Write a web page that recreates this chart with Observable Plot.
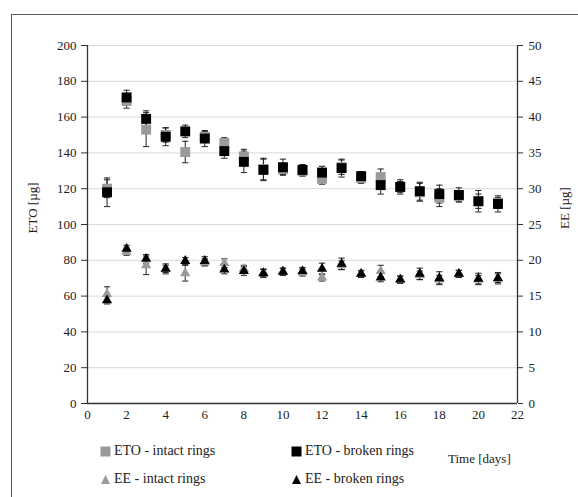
<!DOCTYPE html>
<html><head><meta charset="utf-8">
<script src="https://cdn.jsdelivr.net/npm/d3@7"></script>
<script src="https://cdn.jsdelivr.net/npm/@observablehq/plot@0.6"></script>
<style>
body{margin:0;width:578px;height:497px;overflow:hidden;background:#fff;font-family:'Liberation Serif',serif;color:#222;position:relative}
#frame{position:absolute;left:11px;top:14px;width:620px;height:620px;border:1px solid #595959}
#chart{position:absolute;left:0;top:0}
#chart svg text{font-family:'Liberation Serif',serif}
.lab{position:absolute;font-family:'Liberation Serif',serif;font-size:13px;white-space:nowrap;line-height:1}
.rot{transform:translate(-50%,-50%) rotate(-90deg)}
.leg{position:absolute;font-family:'Liberation Serif',serif;font-size:14px;white-space:nowrap;line-height:1;display:flex;align-items:center}
.leg svg{margin-right:3px}
</style></head>
<body>
<div id="frame"></div>
<div id="chart"></div>
<div class="lab rot" style="left:32px;top:208px">ETO [µg]</div>
<div class="lab rot" style="left:564px;top:208px">EE [µg]</div>
<div class="leg" style="left:100px;top:444px"><svg width="11" height="11"><rect width="10" height="10" x="0.5" y="0.5" fill="#9a9a9a"/></svg>ETO - intact rings</div>
<div class="leg" style="left:291px;top:444px"><svg width="11" height="11"><rect width="10" height="10" x="0.5" y="0.5" fill="#000"/></svg>ETO - broken rings</div>
<div class="leg" style="left:100px;top:472px"><svg width="11" height="11"><path d="M5.5,1 L10,10 L1,10 Z" fill="#9a9a9a"/></svg>EE - intact rings</div>
<div class="leg" style="left:291px;top:472px"><svg width="11" height="11"><path d="M5.5,1 L10,10 L1,10 Z" fill="#000"/></svg>EE - broken rings</div>
<div class="lab" style="left:448px;top:452px">Time [days]</div>
<script>
const days = [1,2,3,4,5,6,7,8,9,10,11,12,13,14,15,16,17,18,19,20,21];
// ETO (µg, left axis)
const etoIntact    = [120,169,153,150,140.5,149,145.5,138,131,131,130,125.5,132,126,126.5,121,118,115,116,113,112];
const etoIntactErr = [5,4,9.5,4,6,3,3,4,6,3,3,3,4,3,4.5,3,5,5,3,4,3];
const etoBroken    = [118,171,159,149,152,148,141,135,130.5,132,130.5,129,131.5,127,122,121,118.6,117,116.5,113,111.5];
const etoBrokenErr = [8,4,4.5,5,3.5,4.5,4,6,6,4.5,3,3.5,5,2.5,5,4,5,5,4,6,4.5];
// EE (µg, right axis)
const eeIntact    = [15.3,21.2,19.3,18.8,18.2,19.7,19.6,18.8,18.2,18.4,18.3,17.6,19.3,18.1,18.5,17.3,17.9,17.3,18.1,17.3,17.5];
const eeIntactErr = [1.0,0.5,1.3,0.5,1.1,0.5,0.6,0.5,0.5,0.5,0.5,0.5,0.6,0.4,0.8,0.5,0.6,0.6,0.5,0.6,0.6];
const eeBroken    = [14.4,21.6,20.2,18.8,19.9,19.9,18.7,18.5,18.2,18.4,18.5,18.8,19.5,18.1,17.6,17.3,18.1,17.5,18.1,17.4,17.5];
const eeBrokenErr = [0.5,0.5,0.6,0.7,0.5,0.6,0.6,0.6,0.6,0.5,0.5,0.8,0.8,0.5,0.6,0.5,0.8,0.9,0.5,0.8,0.8];
const leftTicks  = [0,20,40,60,80,100,120,140,160,180,200];
const rightTicks = [0,5,10,15,20,25,30,35,40,45,50];
const xTicks = [0,2,4,6,8,10,12,14,16,18,20,22];
const EE_SCALE = 4; // right axis 0–50 shares the 0–200 left scale

function rows(vals, errs, k) {
  return days.map((d, i) => ({day: d, y: vals[i] * k, lo: (vals[i] - errs[i]) * k, hi: (vals[i] + errs[i]) * k}));
}
const sEtoI = rows(etoIntact, etoIntactErr, 1);
const sEtoB = rows(etoBroken, etoBrokenErr, 1);
const sEeI = rows(eeIntact, eeIntactErr, EE_SCALE);
const sEeB = rows(eeBroken, eeBrokenErr, EE_SCALE);
const all = [...sEtoI, ...sEtoB, ...sEeI, ...sEeB];
const cap = 0.16;
const axisColor = "#333";

const chart = Plot.plot({
  width: 578, height: 430,
  marginLeft: 87, marginRight: 61, marginTop: 45, marginBottom: 27,
  x: {domain: [0, 22]},
  y: {domain: [0, 200]},
  style: {fontFamily: "'Liberation Serif', serif", fontSize: "13px", color: "#222", background: "transparent"},
  marks: [
    Plot.gridY(leftTicks.filter(t => t > 0), {stroke: "#d9d9d9", strokeOpacity: 1}),
    Plot.axisY(leftTicks, {anchor: "left", tickSize: 6, tickPadding: 5, label: null, stroke: axisColor}),
    Plot.axisY(rightTicks.map(t => t * EE_SCALE), {anchor: "right", tickSize: 5, tickPadding: 6, label: null, stroke: axisColor, tickFormat: d => d / EE_SCALE}),
    Plot.axisX(xTicks, {tickSize: 0, tickPadding: 6, label: null}),
    Plot.ruleY([0], {stroke: axisColor, strokeWidth: 1.3}),
    Plot.ruleX([0, 22], {stroke: axisColor, strokeWidth: 1.3}),
    Plot.ruleX(all, {x: "day", y1: "lo", y2: "hi", stroke: "#222", strokeWidth: 1}),
    Plot.link(all, {x1: d => d.day - cap, x2: d => d.day + cap, y1: "lo", y2: "lo", stroke: "#222", strokeWidth: 1}),
    Plot.link(all, {x1: d => d.day - cap, x2: d => d.day + cap, y1: "hi", y2: "hi", stroke: "#222", strokeWidth: 1}),
    Plot.dot(sEtoI, {x: "day", y: "y", symbol: "square", r: 5.6, fill: "#9a9a9a"}),
    Plot.dot(sEeI, {x: "day", y: "y", symbol: "triangle", r: 3.8, fill: "#9a9a9a"}),
    Plot.dot(sEtoB, {x: "day", y: "y", symbol: "square", r: 5.6, fill: "#000"}),
    Plot.dot(sEeB, {x: "day", y: "y", symbol: "triangle", r: 3.8, fill: "#000"})
  ]
});
document.getElementById("chart").appendChild(chart);
</script>
</body></html>
